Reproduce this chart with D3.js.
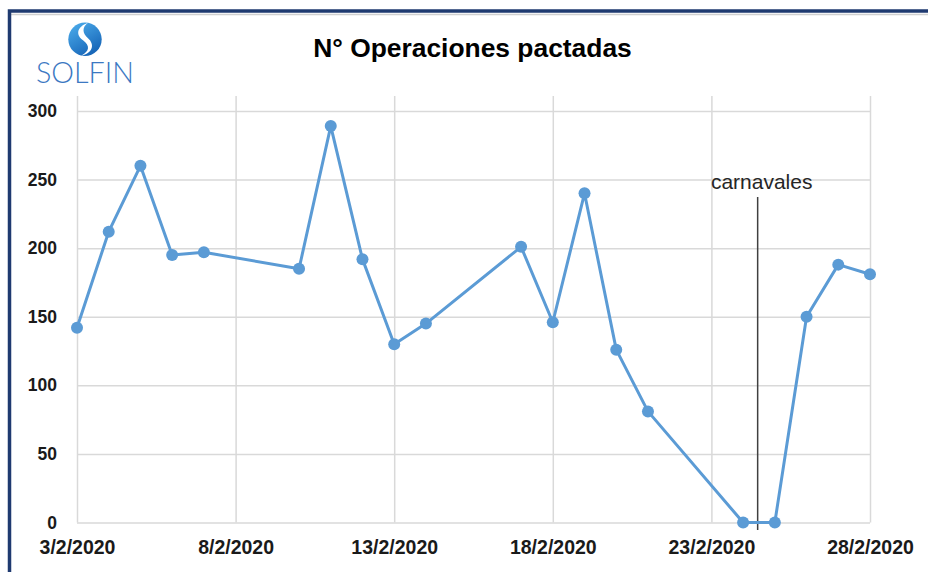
<!DOCTYPE html>
<html>
<head>
<meta charset="utf-8">
<script src="https://cdn.jsdelivr.net/npm/d3@7"></script>
<style>
  html, body { margin: 0; padding: 0; background: #fff; }
  svg { display: block; }
</style>
</head>
<body>
<svg id="chart" width="928" height="572"></svg>
<script>
// ---- data ----
const dates = ["2020-02-03","2020-02-04","2020-02-05","2020-02-06","2020-02-07",
               "2020-02-10","2020-02-11","2020-02-12","2020-02-13","2020-02-14",
               "2020-02-17","2020-02-18","2020-02-19","2020-02-20","2020-02-21",
               "2020-02-24","2020-02-25","2020-02-26","2020-02-27","2020-02-28"];
const operaciones = [142, 212, 260, 195, 197,
                     185, 289, 192, 130, 145,
                     201, 146, 240, 126, 81,
                     0, 0, 150, 188, 181];
const xTickDates = ["2020-02-03","2020-02-08","2020-02-13","2020-02-18","2020-02-23","2020-02-28"];
const yTickValues = [0, 50, 100, 150, 200, 250, 300];
const annotationDate = "2020-02-24T11:00";
const annotationLabel = "carnavales";
const titleText = "N° Operaciones pactadas";
const logoText = "SOLFIN";

// ---- layout ----
const parse = d3.isoParse;
const svg = d3.select("#chart");
const pLeft = 77, pRight = 870, pTop = 96, y300 = 111, pBottom = 522.5;

const x = d3.scaleTime()
  .domain([parse(xTickDates[0]), parse(xTickDates[xTickDates.length - 1])])
  .range([pLeft, pRight]);
const y = d3.scaleLinear().domain([0, 300]).range([pBottom, y300]);

const fmt = d => `${d.getDate()}/${d.getMonth() + 1}/${d.getFullYear()}`;

// frame
svg.append("line").attr("x1", 8).attr("x2", 928).attr("y1", 14.5).attr("y2", 14.5)
  .attr("stroke", "#d0d0d0").attr("stroke-width", 1.5);
svg.append("path")
  .attr("d", "M9.5,580 V11 H940")
  .attr("fill", "none").attr("stroke", "#1f3a70").attr("stroke-width", 3.5);

// gridlines (horizontal)
const gy = svg.append("g").attr("transform", `translate(${pLeft},0)`)
  .call(d3.axisLeft(y).tickValues(yTickValues).tickSize(-(pRight - pLeft)).tickPadding(20));
gy.select(".domain").remove();
gy.selectAll(".tick line").attr("stroke", "#d9d9d9").attr("stroke-width", 1.5);
gy.selectAll(".tick text")
  .attr("font-family", "Liberation Sans, Arial, sans-serif")
  .attr("font-weight", "bold").attr("font-size", 17.5).attr("fill", "#1a1a1a");

// gridlines (vertical) + x labels
const gx = svg.append("g").attr("transform", `translate(0,${pBottom})`)
  .call(d3.axisBottom(x).tickValues(xTickDates.map(parse)).tickFormat(fmt)
    .tickSize(-(pBottom - pTop)).tickPadding(18));
gx.select(".domain").remove();
gx.selectAll(".tick line").attr("stroke", "#d9d9d9").attr("stroke-width", 1.5);
gx.selectAll(".tick text")
  .attr("font-family", "Liberation Sans, Arial, sans-serif")
  .attr("font-weight", "bold").attr("font-size", 19.5).attr("fill", "#1a1a1a");

// annotation
const ax = x(parse(annotationDate));
svg.append("line").attr("x1", ax).attr("x2", ax).attr("y1", 197).attr("y2", 530)
  .attr("stroke", "#404040").attr("stroke-width", 1.5);
svg.append("text").attr("x", ax + 4).attr("y", 189).attr("text-anchor", "middle")
  .attr("font-family", "Liberation Sans, Arial, sans-serif")
  .attr("font-size", 21).attr("fill", "#262626")
  .text(annotationLabel);

// series
const data = dates.map((d, i) => ({ date: parse(d), value: operaciones[i] }));
svg.append("path").datum(data)
  .attr("fill", "none").attr("stroke", "#5b9bd5").attr("stroke-width", 3)
  .attr("stroke-linejoin", "round")
  .attr("d", d3.line().x(d => x(d.date)).y(d => y(d.value)));
svg.append("g").selectAll("circle").data(data).join("circle")
  .attr("cx", d => x(d.date)).attr("cy", d => y(d.value)).attr("r", 6)
  .attr("fill", "#5b9bd5");

// title
svg.append("text").attr("x", 472.5).attr("y", 57).attr("text-anchor", "middle")
  .attr("font-family", "Liberation Sans, Arial, sans-serif")
  .attr("font-weight", "bold").attr("font-size", 26.4).attr("fill", "#000")
  .text(titleText);

// logo
const defs = svg.append("defs");
const grad = defs.append("linearGradient").attr("id", "lg")
  .attr("x1", "0").attr("y1", "0").attr("x2", "0.6").attr("y2", "1");
grad.append("stop").attr("offset", "0").attr("stop-color", "#4fb0ee");
grad.append("stop").attr("offset", "1").attr("stop-color", "#1766b8");
const logo = svg.append("g").attr("transform", "translate(85,39.3)");
logo.append("circle").attr("r", 16.7).attr("fill", "url(#lg)");
logo.append("path")
  .attr("d", "M3,-16.5 C-9,-12 -9,-4 -2,1 C5,6 5,12 -4,16.4 C8,14 10,5 3,-1 C-3,-6 -3,-12 3,-16.5 Z")
  .attr("fill", "#fff");
svg.append("text").attr("x", 36).attr("y", 83).attr("textLength", 98)
  .attr("lengthAdjust", "spacingAndGlyphs")
  .attr("font-family", "Lato, Liberation Sans, sans-serif").attr("font-weight", 300)
  .attr("font-size", 30).attr("fill", "#3b78c2")
  .text(logoText);
</script>
</body>
</html>
